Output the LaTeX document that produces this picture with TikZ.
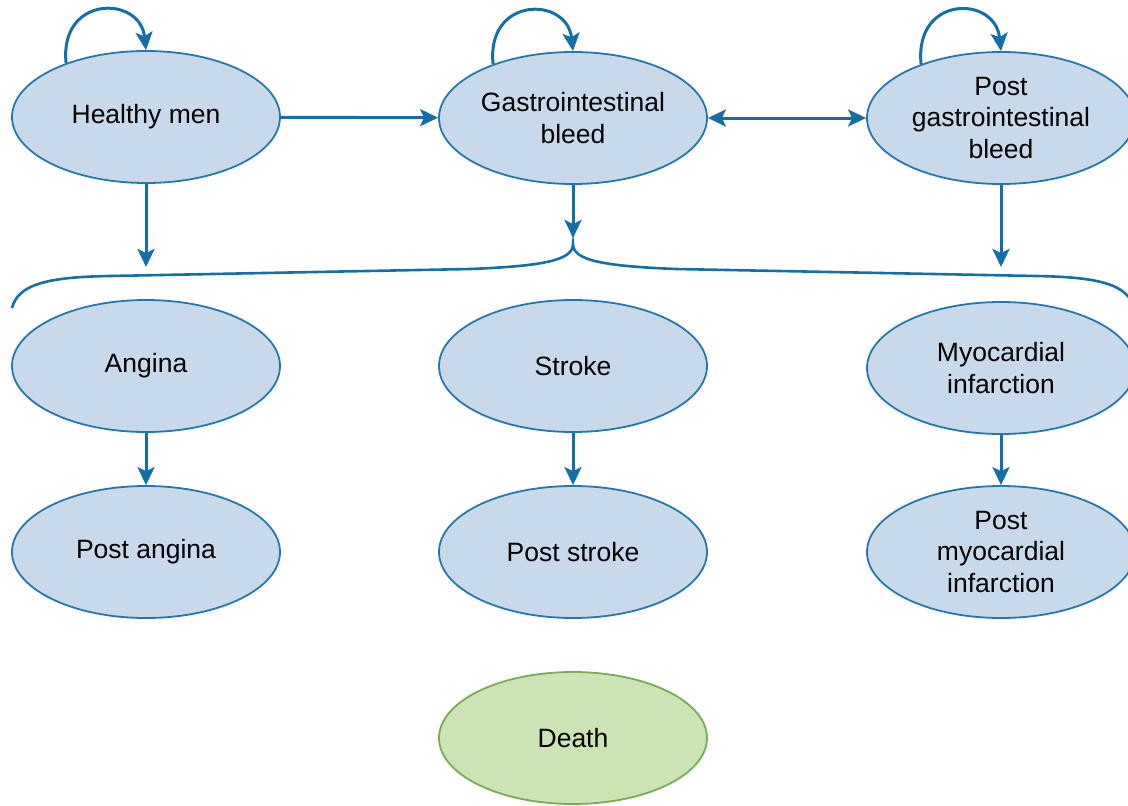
\documentclass[tikz,border=0pt]{standalone}
\usepackage{fontspec}
\setmainfont{Liberation Sans}
\usetikzlibrary{positioning, arrows.meta, shapes.geometric}
\definecolor{stateblue}{RGB}{201,217,236}
\definecolor{edgeblue}{RGB}{38,120,172}
\definecolor{arrowblue}{RGB}{20,110,170}
\definecolor{deathgreen}{RGB}{204,227,180}
\definecolor{deathedge}{RGB}{122,172,86}

\begin{document}
\begin{tikzpicture}[
  x=1pt, y=-1pt,
  state/.style={ellipse, draw=edgeblue, line width=1.8pt, fill=stateblue,
    minimum width=268pt, minimum height=132pt, inner sep=0pt, align=center,
    font=\fontsize{26.5}{31.5}\selectfont},
  deadstate/.style={state, draw=deathedge, fill=deathgreen},
  arr/.style={-{Stealth[length=18pt, width=17pt, inset=4pt]}, line width=3pt, draw=arrowblue},
  biarr/.style={arr, {Stealth[length=18pt, width=17pt, inset=4pt]}-{Stealth[length=18pt, width=17pt, inset=4pt]}},
  brace/.style={line width=2.6pt, draw=arrowblue}
]
  \useasboundingbox (0,0) rectangle (1128,806);

  % top row
  \node[state] (healthy) at (146,117) {Healthy men};
  \node[state] (gib) at (573,118) {Gastrointestinal\\bleed};
  \node[state] (postgib) at (1001,118) {Post\\gastrointestinal\\bleed};

  % events
  \node[state] (angina) at (146,366) {Angina};
  \node[state] (stroke) at (573,366) {Stroke};
  \node[state] (mi) at (1001,368) {Myocardial\\infarction};

  % post event states
  \node[state] (postangina) at (146,552) {Post angina};
  \node[state] (poststroke) at (573,552) {Post stroke};
  \node[state] (postmi) at (1001,552) {Post\\myocardial\\infarction};

  \node[deadstate] (death) at (573,738) {Death};

  % self loops
  \draw[arr] (healthy.146) .. controls (59,-5) and (140,-5) .. (healthy.north);
  \draw[arr] (gib.146) .. controls (486,-4) and (567,-4) .. (gib.north);
  \draw[arr] (postgib.146) .. controls (914,-5) and (995,-5) .. (postgib.north);

  \draw[arr] (healthy) -- (gib);
  \draw[biarr] (gib) -- (postgib);

  % into the brace
  \coordinate (hdown) at (146,267);
  \coordinate (gdown) at (573,238);
  \coordinate (pdown) at (1001,267);
  \draw[arr] (healthy.south) -- (hdown);
  \draw[arr] (gib.south) -- (gdown);
  \draw[arr] (postgib.south) -- (pdown);

  \coordinate (bleft) at (12,308);
  \coordinate (btip) at (573,244);
  \coordinate (bright) at (1134,308);
  \draw[brace] (bleft) .. controls (18,285) and (45,277) .. (110,276)
    -- (470,269) .. controls (545,266) and (573,260) .. (btip)
    .. controls (573,260) and (601,266) .. (676,269)
    -- (1036,276) .. controls (1101,277) and (1128,285) .. (bright);

  \draw[arr] (angina) -- (postangina);
  \draw[arr] (stroke) -- (poststroke);
  \draw[arr] (mi) -- (postmi);
\end{tikzpicture}
\end{document}
